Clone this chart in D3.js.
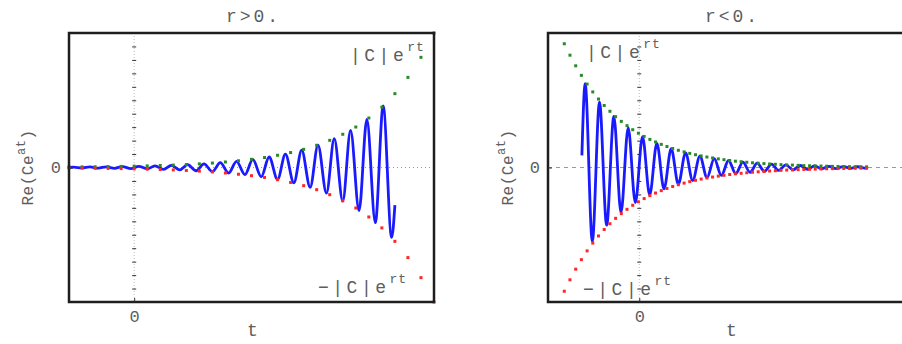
<!DOCTYPE html>
<html lang="en">
<head>
<meta charset="UTF-8">
<title>Re(Ce^at) for r&gt;0 and r&lt;0</title>
<script src="https://d3js.org/d3.v7.min.js"></script>
<style>
  body { margin: 0; background: #fff; }
  svg text { font-family: "Liberation Mono", "DejaVu Sans Mono", monospace; fill: #5e5e5e; }
</style>
</head>
<body>
<svg id="chart" width="902" height="344"></svg>
<script>
// ---- data ----
// left panel (r>0): envelope dots every 0.2 in t
const leftDotT = [-1.0,-0.8,-0.6,-0.4,-0.2,0.0,0.2,0.4,0.6,0.8,1.0,1.2,1.4,1.6,1.8,2.0,2.2,2.4,2.6,2.8,3.0,3.2,3.4,3.6,3.8,4.0,4.2,4.4,4.6];
const leftDotV = [0.0037,0.0045,0.0055,0.0067,0.0082,0.010,0.012,0.015,0.018,0.022,0.027,0.033,0.041,0.050,0.061,0.074,0.091,0.111,0.135,0.165,0.202,0.247,0.301,0.368,0.449,0.549,0.670,0.819,1.0];
// left blue curve: start, peaks, troughs, end
const leftStart = [-1.0, 0.0];
const leftEnd = [4.0, -0.28];
const leftPeakT = [-0.93,-0.68,-0.43,-0.18,0.07,0.32,0.57,0.82,1.07,1.32,1.57,1.82,2.07,2.32,2.57,2.82,3.07,3.32,3.57,3.82];
const leftPeakV = [0.003,0.004,0.005,0.007,0.009,0.012,0.016,0.021,0.027,0.036,0.046,0.060,0.078,0.100,0.129,0.167,0.215,0.276,0.357,0.458];
const leftTroughT = [-0.80,-0.55,-0.30,-0.05,0.20,0.45,0.70,0.95,1.20,1.45,1.70,1.95,2.20,2.45,2.70,2.95,3.20,3.45,3.70,3.95];
const leftTroughV = [-0.0035,-0.0045,-0.006,-0.008,-0.010,-0.014,-0.018,-0.024,-0.031,-0.041,-0.053,-0.069,-0.089,-0.114,-0.148,-0.19,-0.25,-0.32,-0.41,-0.52];

// right panel (r<0)
const rightDotT = [-1.150,-1.063,-0.975,-0.888,-0.800,-0.713,-0.625,-0.538,-0.450,-0.363,-0.275,-0.188,-0.100,-0.013,0.075,0.163,0.250,0.338,0.425,0.513,0.600,0.688,0.775,0.863,0.950,1.038,1.125,1.213,1.300,1.388,1.475,1.563,1.650,1.738,1.825,1.913,2.000,2.088,2.175,2.263,2.350,2.438,2.525,2.613,2.700,2.788,2.875,2.963,3.050,3.138,3.225,3.313,3.400,3.488];
const rightDotV = [0.92,0.835,0.756,0.685,0.620,0.562,0.509,0.461,0.418,0.378,0.343,0.311,0.281,0.255,0.231,0.209,0.190,0.172,0.156,0.141,0.128,0.116,0.105,0.095,0.086,0.078,0.071,0.064,0.058,0.052,0.047,0.043,0.039,0.035,0.032,0.029,0.026,0.024,0.021,0.019,0.018,0.016,0.014,0.013,0.012,0.011,0.0095,0.0086,0.0078,0.0071,0.0064,0.0058,0.0052,0.0047];
const rightStart = [-0.88, 0.09];
const rightEnd = [3.50, -0.003];
const rightPeakT = [-0.83,-0.61,-0.39,-0.17,0.05,0.27,0.49,0.71,0.93,1.15,1.37,1.59,1.81,2.03,2.25,2.47,2.69,2.91,3.13,3.35];
const rightPeakV = [0.623,0.486,0.379,0.296,0.230,0.180,0.140,0.109,0.085,0.066,0.052,0.040,0.032,0.025,0.019,0.015,0.012,0.009,0.007,0.0055];
const rightTroughT = [-0.72,-0.50,-0.28,-0.06,0.16,0.38,0.60,0.82,1.04,1.26,1.48,1.70,1.92,2.14,2.36,2.58,2.80,3.02,3.24,3.46];
const rightTroughV = [-0.550,-0.429,-0.335,-0.261,-0.204,-0.159,-0.124,-0.097,-0.076,-0.059,-0.046,-0.036,-0.028,-0.022,-0.017,-0.013,-0.010,-0.008,-0.006,-0.005];

const tickLabels = ['0'];
const titles = ['r>0.', 'r<0.'];

// ---- layout ----
const frameW = 365, frameTop = 33, frameBottom = 302;
const svg = d3.select('#chart');

const panels = [
  { left: 69, tDomain: [-1.0, 4.6], title: titles[0], zeroDash: '1,3',
    dotT: leftDotT, dotV: leftDotV, start: leftStart, end: leftEnd,
    peakT: leftPeakT, peakV: leftPeakV, troughT: leftTroughT, troughV: leftTroughV,
    ylabX: 27, topLab: [350, 61], botLab: [318, 293] },
  { left: 548, tDomain: [-1.4, 4.2], title: titles[1], zeroDash: '4,4',
    dotT: rightDotT, dotV: rightDotV, start: rightStart, end: rightEnd,
    peakT: rightPeakT, peakV: rightPeakV, troughT: rightTroughT, troughV: rightTroughV,
    ylabX: 507, topLab: [586, 58], botLab: [583, 295] }
];

function addLabel(g, pos, main) {
  const t = g.append('text').attr('x', pos[0]).attr('y', pos[1])
    .attr('font-size', 18).attr('letter-spacing', 3.5);
  t.append('tspan').text(main);
  t.append('tspan').attr('dy', -10).attr('font-size', 13).attr('letter-spacing', 1).text('rt');
}

function drawPanel(p) {
  const x = d3.scaleLinear().domain(p.tDomain).range([p.left, p.left + frameW]);
  const y = d3.scaleLinear().domain([-1, 1]).range([frameBottom, frameTop]);
  const g = svg.append('g');

  // zero line
  g.append('line')
    .attr('x1', p.left).attr('x2', p.left + frameW)
    .attr('y1', y(0)).attr('y2', y(0))
    .attr('stroke', '#999').attr('stroke-width', 1).attr('stroke-dasharray', p.zeroDash);

  // vertical axis at t = 0 (dotted with small ticks)
  g.append('line')
    .attr('x1', x(0)).attr('x2', x(0)).attr('y1', frameTop).attr('y2', frameBottom)
    .attr('stroke', '#bbb').attr('stroke-width', 1).attr('stroke-dasharray', '1,2');
  const minor = d3.axisRight(y).tickValues(d3.range(-0.9, 0.95, 0.1)).tickSize(4).tickSizeOuter(0).tickFormat('');
  const ax = g.append('g').attr('transform', `translate(${x(0) - 2},0)`).call(minor);
  ax.select('.domain').remove();
  ax.selectAll('line').attr('stroke', '#c4c4c4');

  // blue curve
  const pts = [p.start];
  p.peakT.forEach((t, i) => pts.push([t, p.peakV[i]]));
  p.troughT.forEach((t, i) => pts.push([t, p.troughV[i]]));
  pts.push(p.end);
  pts.sort((a, b) => a[0] - b[0]);
  const line = d3.line().x(d => x(d[0])).y(d => y(d[1])).curve(d3.curveMonotoneX);
  g.append('path').attr('d', line(pts))
    .attr('fill', 'none').attr('stroke', '#1a1aff').attr('stroke-width', 2.8);

  // envelope dots
  g.selectAll('.up').data(p.dotT).join('rect').attr('class', 'up')
    .attr('x', d => x(d) - 1.5).attr('y', (d, i) => y(p.dotV[i]) - 1.5)
    .attr('width', 3).attr('height', 3).attr('fill', '#2a8a2a');
  g.selectAll('.dn').data(p.dotT).join('rect').attr('class', 'dn')
    .attr('x', d => x(d) - 1.5).attr('y', (d, i) => y(-p.dotV[i]) - 1.5)
    .attr('width', 3).attr('height', 3).attr('fill', '#ff2626');

  // frame
  g.append('rect').attr('x', p.left).attr('y', frameTop)
    .attr('width', frameW).attr('height', frameBottom - frameTop)
    .attr('fill', 'none').attr('stroke', '#1e1e1e').attr('stroke-width', 2.5);

  // frame ticks with labels
  const bx = g.append('g').attr('transform', `translate(0,${frameBottom})`)
    .call(d3.axisBottom(x).tickValues([0]).tickFormat(() => tickLabels[0]).tickSize(-4).tickPadding(8));
  bx.select('.domain').remove();
  const ly = g.append('g').attr('transform', `translate(${p.left},0)`)
    .call(d3.axisLeft(y).tickValues([0]).tickFormat(() => tickLabels[0]).tickSize(-4).tickPadding(8));
  ly.select('.domain').remove();
  g.selectAll('.tick line').attr('stroke', '#333');
  g.selectAll('.tick text').attr('font-size', 17).attr('font-family', '"Liberation Mono", monospace').attr('fill', '#66668a');

  // title
  g.append('text').attr('x', p.left + frameW / 2 + 2).attr('y', 22)
    .attr('text-anchor', 'middle').attr('font-size', 18).attr('letter-spacing', 3).text(p.title);
  // x label
  g.append('text').attr('x', p.left + frameW / 2 + 1).attr('y', 336)
    .attr('text-anchor', 'middle').attr('font-size', 18).text('t');
  // y label
  const yl = g.append('text').attr('transform', `translate(${p.ylabX + 6},${y(0)}) rotate(-90)`)
    .attr('text-anchor', 'middle').attr('font-size', 16).attr('letter-spacing', 0.5);
  yl.append('tspan').text('Re(Ce');
  yl.append('tspan').attr('dy', -8).attr('font-size', 12).text('at');
  yl.append('tspan').attr('dy', 8).text(')');

  // envelope labels
  addLabel(g, p.topLab, '|C|e');
  addLabel(g, p.botLab, '\u2212|C|e');
}

panels.forEach(drawPanel);
</script>
</body>
</html>
